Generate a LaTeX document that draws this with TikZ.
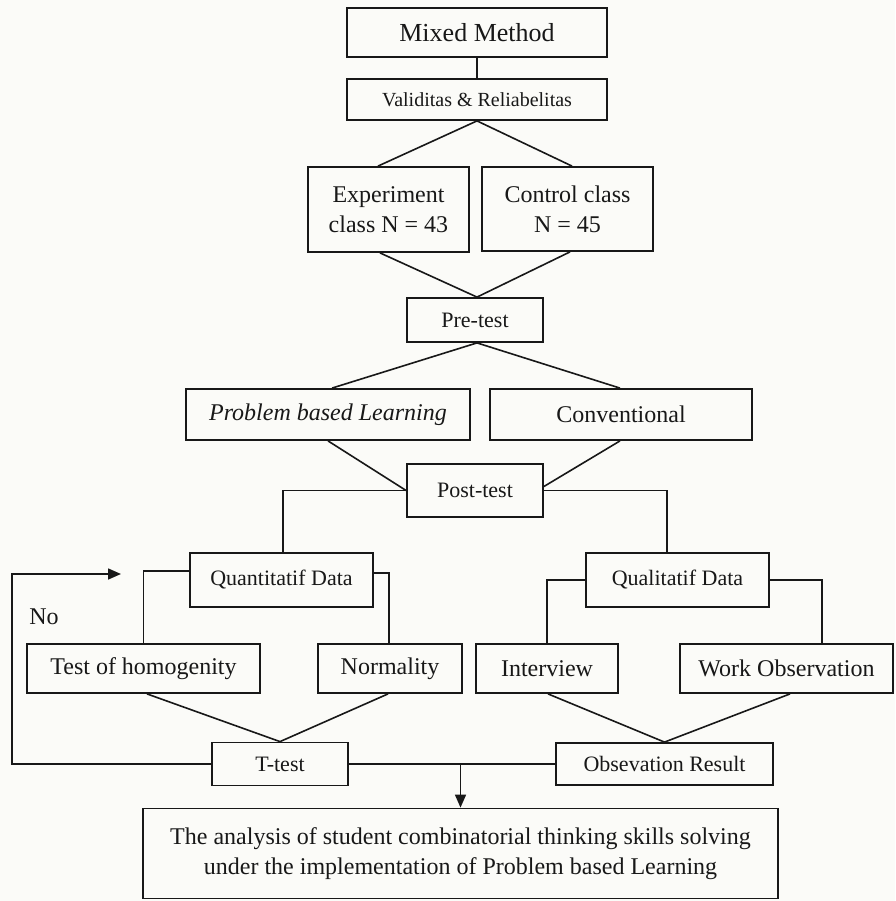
\documentclass[tikz,border=0pt]{standalone}
\usepackage{fontspec}
\setmainfont{Liberation Serif}
\usetikzlibrary{arrows.meta,calc}
\definecolor{bg}{RGB}{251,251,248}
\definecolor{ink}{RGB}{24,24,24}
\begin{document}
\begin{tikzpicture}[x=1pt,y=-1pt,
  box/.style={draw=ink, line width=1.8pt, inner sep=0pt, align=center, text=ink},
  link/.style={draw=ink, line width=1.6pt},
  arrowlink/.style={link, -{Triangle[length=13pt,width=11pt]}},
  fbig/.style={font=\fontsize{26}{30}\selectfont},
  fmain/.style={font=\fontsize{24}{30}\selectfont},
  fmid/.style={font=\fontsize{22}{26}\selectfont},
  fsmall/.style={font=\fontsize{22}{26}\selectfont},
  fval/.style={font=\fontsize{20}{24}\selectfont}]
\fill[bg] (0,0) rectangle (895,901);
\useasboundingbox (0,0) rectangle (895,901);

% nodes
\node[box, fbig, minimum width=260pt, minimum height=49pt] (mm) at (477,32.5) {Mixed Method};
\node[box, fval, minimum width=260pt, minimum height=41pt] (val) at (477,99.5) {Validitas \& Reliabelitas};
\node[box, fmain, minimum width=161pt, minimum height=85pt] (exp) at (388.5,209.5) {Experiment\\class N = 43};
\node[box, fmain, minimum width=171pt, minimum height=84pt] (ctrl) at (567.5,209) {Control class\\N = 45};
\node[box, fmid, minimum width=136pt, minimum height=44pt] (pre) at (475,320) {Pre-test};
\node[box, fmain, minimum width=284pt, minimum height=51pt] (pbl) at (328,414.5) {\itshape Problem based Learning};
\node[box, fmain, minimum width=262pt, minimum height=51pt] (conv) at (621,414.5) {Conventional};
\node[box, fmid, minimum width=136pt, minimum height=53pt] (post) at (475,490.5) {Post-test};
\node[box, fsmall, minimum width=183pt, minimum height=54pt] (quant) at (281.5,580) {Quantitatif Data};
\node[box, fsmall, minimum width=183pt, minimum height=54pt] (qual) at (677.5,580) {Qualitatif Data};
\node[box, fmain, minimum width=233pt, minimum height=49pt] (homog) at (143.5,668.5) {Test of homogenity};
\node[box, fmain, minimum width=144pt, minimum height=49pt] (norm) at (390,668.5) {Normality};
\node[box, fmain, minimum width=142pt, minimum height=49pt] (interv) at (547,668.5) {Interview};
\node[box, fmain, minimum width=213pt, minimum height=49pt] (work) at (786.5,668.5) {Work Observation};
\node[box, fsmall, minimum width=136pt, minimum height=43pt] (ttest) at (280,764) {T-test};
\node[box, fmid, minimum width=217pt, minimum height=42pt] (obs) at (664.5,764) {Obsevation Result};
\node[box, fmain, minimum width=635pt, minimum height=90pt] (final) at (460.5,853.5)
  {The analysis of student combinatorial thinking skills solving\\under the implementation of Problem based Learning};
\node[fmain, text=ink, inner sep=0pt] (no) at (44,617) {No};

% connectors
\draw[link] (mm.south) -- (val.north);
\draw[link] ([xshift=-10.5pt]exp.north) -- (val.south) -- ([xshift=4.5pt]ctrl.north);
\draw[link] ([xshift=-8.5pt]exp.south) -- ([xshift=2pt]pre.north) -- ([xshift=2.5pt]ctrl.south);
\draw[link] ([xshift=4pt]pbl.north) -- ([xshift=2pt]pre.south) -- ([xshift=-1pt]conv.north);
\draw[link] (pbl.south) -- (post.west);
\draw[link] ([xshift=-1pt]conv.south) -- ([yshift=4pt]post.east);
\draw[link] (post.west) -| ([xshift=1.5pt]quant.north);
\draw[link] (post.east) -| ([xshift=-10.5pt]qual.north);
\draw[link] ([yshift=9pt]quant.west) -| (homog.north);
\draw[link] ([yshift=7pt]quant.east) -| ([xshift=-1pt]norm.north);
\draw[link] (qual.west) -| (interv.north);
\draw[link] (qual.east) -| ([xshift=35.5pt]work.north);
\draw[link] ([xshift=3.5pt]homog.south) -- (ttest.north) -- ([xshift=-2pt]norm.south);
\draw[link] ([xshift=1pt]interv.south) -- (obs.north) -- ([xshift=3.5pt]work.south);
\draw[link] (ttest.east) -- (obs.west);
\coordinate (join) at (final.north |- obs.west);
\draw[arrowlink] (join) -- (final.north);
\coordinate (loopcorner) at (12,574);
\coordinate (loopend) at (121,574);
\draw[arrowlink] (ttest.west) -| (loopcorner) -- (loopend);
\end{tikzpicture}
\end{document}
